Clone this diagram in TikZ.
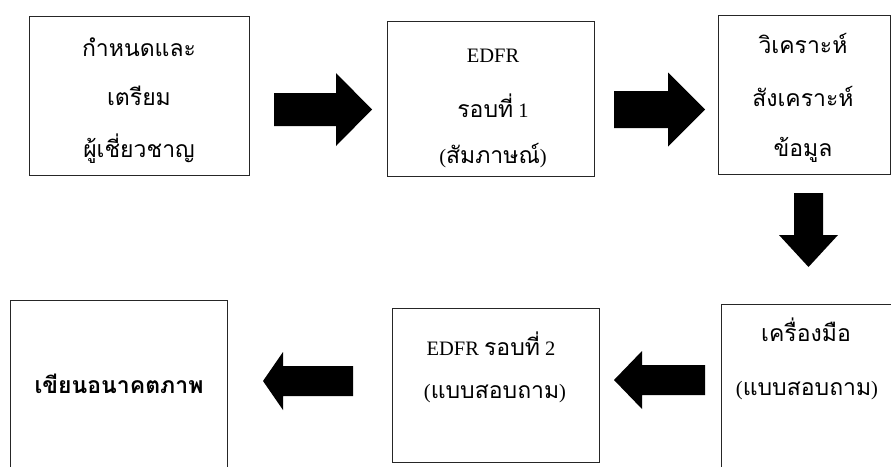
\documentclass[tikz,border=0pt]{standalone}
\usepackage{fontspec}
\setmainfont{Liberation Serif}
\newfontfamily\thaiF[Script=Thai]{Loma}
\newcommand\thai{\thaiF\fontsize{23}{27}\selectfont}
\begin{document}
\begin{tikzpicture}[x=1pt,y=-1pt,
  stepbox/.style={draw=black!85,line width=0.9pt,rectangle,inner sep=0pt},
  txt/.style={font=\fontsize{20.5}{24}\selectfont,inner sep=0pt,anchor=base},
  arrowfill/.style={fill=black}]
\useasboundingbox (0,0) rectangle (891,466);
\newcommand\bigarrow[6]{%
  \fill[arrowfill,shift={(#1)},rotate=#2] (0pt,-#5pt) -- (#3pt,-#5pt) -- (#3pt,-#6pt) -- ({#3pt+#4pt},0pt) -- (#3pt,#6pt) -- (#3pt,#5pt) -- (0pt,#5pt) -- cycle;}
% boxes
\node[stepbox,minimum width=220pt,minimum height=159pt] (b1) at (139,95.5) {};
\node[stepbox,minimum width=207pt,minimum height=155pt] (b2) at (490.5,99) {};
\node[stepbox,minimum width=172pt,minimum height=159pt] (b3) at (804,94.5) {};
\node[stepbox,minimum width=170pt,minimum height=200pt] (b4) at (806,404) {};
\node[stepbox,minimum width=207pt,minimum height=154pt] (b5) at (495.5,385) {};
\node[stepbox,minimum width=217pt,minimum height=200pt] (b6) at (118.5,400) {};
% texts
\node[txt] (t11) at (139,56) {\thai กำหนดและ};
\node[txt] (t12) at (139,105) {\thai เตรียม};
\node[txt] (t13) at (139,157) {\thai ผู้เชี่ยวชาญ};
\node[txt] (t21) at (493,62) {EDFR};
\node[txt] (t22) at (493,117) {{\thai รอบที่} 1};
\node[txt] (t23) at (493,163) {({\thai สัมภาษณ์})};
\node[txt] (t31) at (803,53) {\thai วิเคราะห์};
\node[txt] (t32) at (803,106) {\thai สังเคราะห์};
\node[txt] (t33) at (803,156) {\thai ข้อมูล};
\node[txt] (t41) at (806,341) {\thai เครื่องมือ};
\node[txt] (t42) at (807,395) {({\thai แบบสอบถาม})};
\node[txt] (t51) at (491,355) {EDFR {\thai รอบที่} 2};
\node[txt] (t52) at (495,398) {({\thai แบบสอบถาม})};
\node[txt] (t61) at (119,393) {\thai\bfseries เขียนอนาคตภาพ};
% arrows
\coordinate (a1) at (274,109.5);
\coordinate (a2) at (614,109.5);
\coordinate (a3) at (808.5,193);
\coordinate (a4) at (705,380);
\coordinate (a5) at (353,381);
\bigarrow{a1}{0}{62}{36}{16.5}{36.5}
\bigarrow{a2}{0}{54}{37}{18.5}{37}
\bigarrow{a3}{-90}{42}{32}{14.5}{29.5}
\bigarrow{a4}{180}{63}{28}{15}{29}
\bigarrow{a5}{180}{70}{20}{15}{29}
\end{tikzpicture}
\end{document}
